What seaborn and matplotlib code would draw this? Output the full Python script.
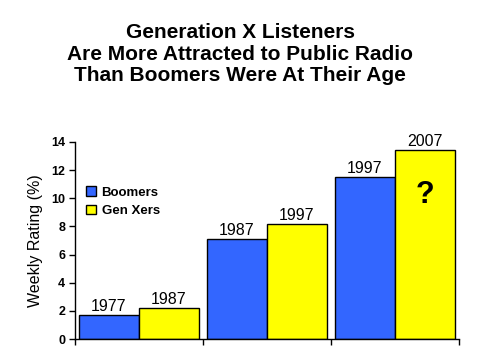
import pandas as pd
import matplotlib
matplotlib.use("Agg")
import matplotlib.pyplot as plt
import seaborn as sns

# Chart data
groups = ["1", "2", "3"]
boomers = [1.7, 7.1, 11.5]
genx = [2.2, 8.15, 13.4]
boomer_years = ["1977", "1987", "1997"]
genx_years = ["1987", "1997", "2007"]
series = ["Boomers", "Gen Xers"]
yticks = [0, 2, 4, 6, 8, 10, 12, 14]

df = pd.DataFrame({
    "group": groups * 2,
    "rating": boomers + genx,
    "series": [series[0]] * 3 + [series[1]] * 3,
})

sns.set_style("white")
plt.rcParams["font.family"] = ["Liberation Sans", "DejaVu Sans"]
plt.rcParams["text.color"] = "black"
plt.rcParams["axes.labelcolor"] = "black"
plt.rcParams["xtick.color"] = "black"
plt.rcParams["ytick.color"] = "black"

fig = plt.figure(figsize=(4.8, 3.6), dpi=100)
ax = fig.add_axes([0.156, 0.058, 0.800, 0.548])

sns.barplot(data=df, x="group", y="rating", hue="series", ax=ax,
            palette=["#3366FF", "#FFFF00"], width=0.94, edgecolor="black",
            linewidth=1, saturation=1, errorbar=None)

for cont, labs in zip(ax.containers, [boomer_years, genx_years]):
    ax.bar_label(cont, labels=labs, padding=1, fontsize=11.5)

# question mark inside the last Gen X bar
ax.text(2.235, 10.2, "?", ha="center", va="center", fontsize=22, fontweight="bold")

ax.set_xlim(-0.5, 2.5)
ax.set_ylim(0, 14)
ax.set_yticks(yticks)
ax.set_yticklabels([str(t) for t in yticks], fontsize=9, fontweight="bold")
ax.set_xticks([-0.5, 0.5, 1.5, 2.5])
ax.set_xticklabels([])
ax.tick_params(axis="both", direction="out", length=4, width=1, color="black",
               left=True, bottom=True, pad=3)
ax.set_xlabel("")
ax.set_ylabel("Weekly Rating (%)", fontsize=11.5, labelpad=6)

for s in ["top", "right"]:
    ax.spines[s].set_visible(False)
for s in ["left", "bottom"]:
    ax.spines[s].set_color("black")
    ax.spines[s].set_linewidth(1)

leg = ax.legend(loc="upper left", bbox_to_anchor=(0.03, 0.775), frameon=False,
                handlelength=0.75, handleheight=0.75, handletextpad=0.4,
                borderpad=0, borderaxespad=0, labelspacing=0.45,
                prop={"size": 9.5, "weight": "bold"})

fig.text(0.5, 0.935, "Generation X Listeners\nAre More Attracted to Public Radio\nThan Boomers Were At Their Age",
         ha="center", va="top", fontsize=15, fontweight="bold", linespacing=1.15)

fig.savefig("out.png", dpi=100)
